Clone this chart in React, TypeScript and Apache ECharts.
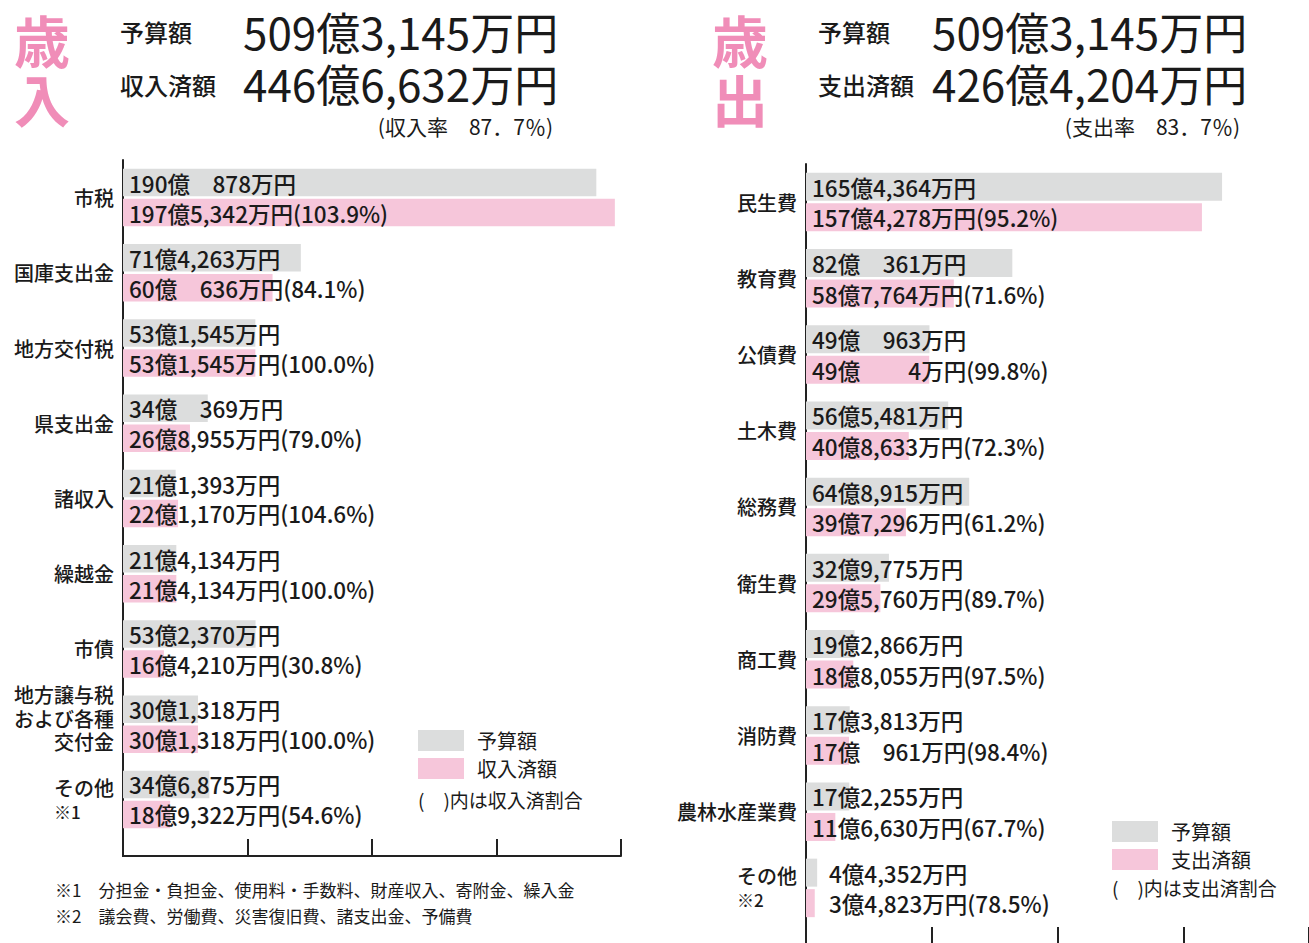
import React, { useEffect, useRef } from 'react';
import * as echarts from 'echarts';

// ---- data (values in 万円) ----
const revenueCategories = ['市税', '国庫支出金', '地方交付税', '県支出金', '諸収入', '繰越金', '市債', '地方譲与税\nおよび各種\n交付金', 'その他※1'];
const revenueBudget = [1900878, 714263, 531545, 340369, 211393, 214134, 532370, 301318, 346875];
const revenueActual = [1975342, 600636, 531545, 268955, 221170, 214134, 164210, 301318, 189322];
const revenueRate = ['103.9', '84.1', '100.0', '79.0', '104.6', '100.0', '30.8', '100.0', '54.6'];

const expenseCategories = ['民生費', '教育費', '公債費', '土木費', '総務費', '衛生費', '商工費', '消防費', '農林水産業費', 'その他※2'];
const expenseBudget = [1654364, 820361, 490963, 565481, 648915, 329775, 192866, 173813, 172255, 44352];
const expenseActual = [1574278, 587764, 490004, 408633, 397296, 295760, 188055, 170961, 116630, 34823];
const expenseRate = ['95.2', '71.6', '99.8', '72.3', '61.2', '89.7', '97.5', '98.4', '67.7', '78.5'];

const revenueTotals = ['509億3,145万円', '446億6,632万円', '87．7％'];
const expenseTotals = ['509億3,145万円', '426億4,204万円', '83．7％'];
const footnotes = ['※1　分担金・負担金、使用料・手数料、財産収入、寄附金、繰入金', '※2　議会費、労働費、災害復旧費、諸支出金、予備費'];

const axisMax = 200; // 億円
const axisInterval = 50;

const FONT = '"Noto Sans CJK JP", "Noto Sans", sans-serif';
const GRAY = '#dcdddd';
const PINK = '#f6c6da';
const TITLE_PINK = '#f08db8';
const INK = '#1a1a1a';

function fmt(man: number): string {
  const oku = Math.floor(man / 10000);
  const rest = man % 10000;
  let restStr: string;
  if (rest >= 1000) restStr = rest.toLocaleString('en-US');
  else restStr = '\u3000' + String(rest).padStart(3, '\u2007');
  return oku + '億' + restStr + '万円';
}

function catFormatter(v: string) {
  const m = v.match(/^(.*)(※\d)$/);
  if (m) return '{a|' + m[1] + '}\n{b|' + m[2] + '}';
  if (v.indexOf('\n') >= 0) return v.split('\n').map((s) => '{m|' + s + '}').join('\n') + '\n{s| }';
  return v;
}

function makeSeries(budget: number[], actual: number[], rate: string[], axis: number, actualName: string, barW: number) {
  const lab = {
    show: true,
    position: 'insideLeft' as const,
    distance: 6,
    color: INK,
    fontSize: 22.5,
    fontWeight: 500,
    fontFamily: FONT,
  };
  const mk = (arr: number[]) => arr.map((v) => {
    const item: any = { value: v / 10000 };
    if (v / 10000 < 8) item.label = { offset: [17, 0] };
    return item;
  });
  return [
    {
      type: 'bar', name: '予算額', xAxisIndex: axis, yAxisIndex: axis,
      data: mk(budget), barWidth: barW, barGap: '9%',
      itemStyle: { color: GRAY }, silent: true,
      label: { ...lab, formatter: (p: any) => fmt(budget[p.dataIndex]) },
    },
    {
      type: 'bar', name: actualName, xAxisIndex: axis, yAxisIndex: axis,
      data: mk(actual), barWidth: barW, barGap: '9%',
      itemStyle: { color: PINK }, silent: true,
      label: { ...lab, formatter: (p: any) => fmt(actual[p.dataIndex]) + '(' + rate[p.dataIndex] + '%)' },
    },
  ];
}

function xAxisCfg(grid: number, offset: number) {
  return {
    gridIndex: grid, type: 'value', min: 0, max: axisMax, interval: axisInterval, offset,
    axisLine: { show: true, lineStyle: { color: '#222', width: 2 } },
    axisTick: { show: true, inside: true, length: 17, lineStyle: { color: '#222', width: 2 } },
    axisLabel: { show: false }, splitLine: { show: false },
  };
}

function yAxisCfg(grid: number, cats: string[]) {
  return {
    gridIndex: grid, type: 'category', inverse: true, data: cats,
    axisLine: { show: true, lineStyle: { color: '#222', width: 2 } },
    axisTick: { show: false },
    axisLabel: {
      margin: 9, color: INK, fontSize: 20, fontWeight: 500, fontFamily: FONT, lineHeight: 24,
      formatter: catFormatter,
      rich: {
        a: { fontSize: 20, fontWeight: 500, lineHeight: 24, fontFamily: FONT, color: INK, align: 'right' },
        b: { fontSize: 17, lineHeight: 24, fontFamily: FONT, color: INK, align: 'left' },
        m: { fontSize: 20, fontWeight: 500, lineHeight: 23.5, fontFamily: FONT, color: INK, align: 'right' },
        s: { fontSize: 8, lineHeight: 12, fontFamily: FONT, color: INK, align: 'right' },
      },
    },
  };
}

function header(x0: number, ch1: string, ch2: string, label2: string, totals: string[], rateWord: string, rateRight: number, numX: number) {
  const t = (text: string, x: number, y: number, size: number, extra: any = {}) => ({
    type: 'text', x, y,
    style: { text, fontSize: size, fontFamily: FONT, fill: INK, textVerticalAlign: 'middle', ...extra },
  });
  return [
    t(ch1, x0 + 30, 38, 56, { fill: TITLE_PINK, fontWeight: 'bold', textAlign: 'center' }),
    t(ch2, x0 + 30, 97, 56, { fill: TITLE_PINK, fontWeight: 'bold', textAlign: 'center' }),
    t('予算額', x0 + 108, 31, 24, { fontWeight: 500 }),
    t(label2, x0 + 108, 84, 24, { fontWeight: 500 }),
    t(totals[0], numX, 31, 44),
    t(totals[1], numX, 83, 44),
    t('(' + rateWord + '\u3000' + totals[2] + ')', rateRight, 126, 21, { textAlign: 'right' }),
  ];
}

export default function App() {
  const ref = useRef<HTMLDivElement>(null);
  useEffect(() => {
    if (!ref.current) return;
    const chart = echarts.init(ref.current, undefined, { renderer: 'svg' });
    const legendText = { fontSize: 20, fontFamily: FONT, color: INK, lineHeight: 21, padding: [0, 0, 0, 8] };
    const noteStyle = (text: string, size: number) => ({ text, fontSize: size, fontFamily: FONT, fill: INK, textVerticalAlign: 'middle' });
    const option: any = {
      animation: false,
      backgroundColor: '#ffffff',
      grid: [
        { left: 123, top: 160, width: 498, height: 677 },
        { left: 806, top: 164, width: 505, height: 762 },
      ],
      xAxis: [xAxisCfg(0, 19), xAxisCfg(1, 18)],
      yAxis: [yAxisCfg(0, revenueCategories), yAxisCfg(1, expenseCategories)],
      legend: [
        {
          left: 418, top: 730, orient: 'vertical', data: ['予算額', '収入済額'],
          itemWidth: 46, itemHeight: 21, itemGap: 7, icon: 'rect', selectedMode: false, padding: 0,
          textStyle: legendText,
        },
        {
          left: 1112, top: 821, orient: 'vertical', data: ['予算額', '支出済額'],
          itemWidth: 46, itemHeight: 21, itemGap: 7, icon: 'rect', selectedMode: false, padding: 0,
          textStyle: legendText,
        },
      ],
      series: [
        ...makeSeries(revenueBudget, revenueActual, revenueRate, 0, '収入済額', 27.5),
        ...makeSeries(expenseBudget, expenseActual, expenseRate, 1, '支出済額', 28),
      ],
      graphic: [
        ...header(12, '歳', '入', '収入済額', revenueTotals, '収入率', 553, 243),
        ...header(710, '歳', '出', '支出済額', expenseTotals, '支出率', 1240, 932),
        { type: 'line', shape: { x1: 123, y1: 836, x2: 123, y2: 857 }, style: { stroke: '#222', lineWidth: 2 } },
        { type: 'line', shape: { x1: 806, y1: 925, x2: 806, y2: 945 }, style: { stroke: '#222', lineWidth: 2 } },
        { type: 'text', x: 418, y: 799, style: noteStyle('(　)内は収入済割合', 19) },
        { type: 'text', x: 1112, y: 887, style: noteStyle('(　)内は支出済割合', 19) },
        { type: 'text', x: 55, y: 889, style: noteStyle(footnotes[0], 17) },
        { type: 'text', x: 55, y: 915, style: noteStyle(footnotes[1], 17) },
      ],
    };
    chart.setOption(option);
    return () => chart.dispose();
  }, []);
  return <div ref={ref} style={{ position: 'absolute', left: 0, top: 0, width: 1309, height: 943 }} />;
}
